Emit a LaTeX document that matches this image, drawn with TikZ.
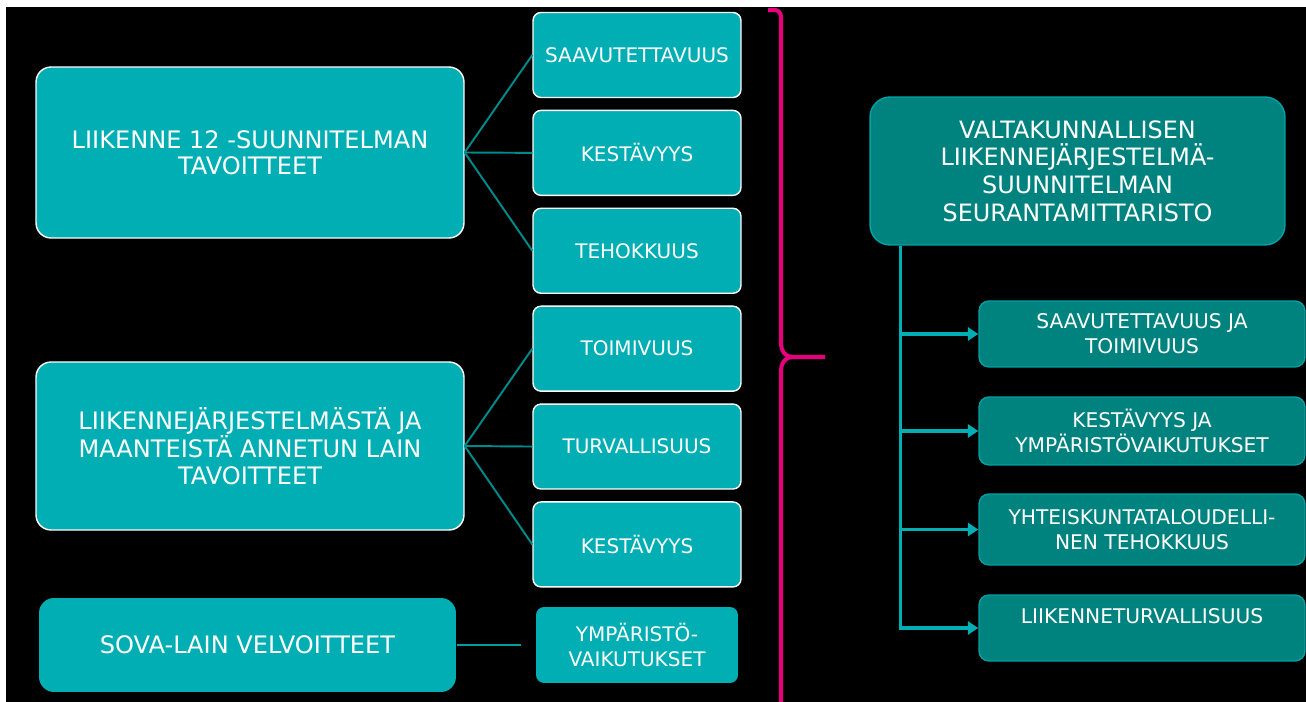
\documentclass[tikz,border=0pt]{standalone}
\usepackage{fontspec}
\setmainfont{DejaVu Sans}
\usepackage{xcolor}
\usepackage{tikz}
\usetikzlibrary{arrows.meta, positioning}

\definecolor{tealA}{HTML}{00AEB3}
\definecolor{tealB}{HTML}{00827F}
\definecolor{tealLine}{HTML}{008A8A}
\definecolor{braceMagenta}{HTML}{E6007E}

\tikzset{
  goalbox/.style={draw=white, line width=0.8pt, fill=tealA, text=white, rounded corners=0.3cm,
    align=center, inner sep=0pt, font=\fontsize{13.7}{15}\selectfont},
  aimbox/.style={draw=white, line width=0.8pt, fill=tealA, text=white, rounded corners=0.16cm,
    align=center, inner sep=0pt, minimum width=4.16cm, minimum height=1.7cm,
    font=\fontsize{11.4}{14.2}\selectfont},
  titlebox/.style={draw=tealA!75!tealB, line width=0.8pt, fill=tealB, text=white, rounded corners=0.4cm,
    align=center, inner sep=0pt, minimum width=8.3cm, minimum height=2.96cm,
    font=\fontsize{13.6}{15.7}\selectfont},
  metricbox/.style={draw=tealA!70!tealB, line width=0.8pt, fill=tealB, text=white, rounded corners=0.2cm,
    align=center, inner sep=0pt, minimum width=6.52cm, font=\fontsize{11.5}{14.2}\selectfont},
  link/.style={draw=tealLine, line width=1.1pt},
  feed/.style={draw=tealA, line width=2pt},
  brace/.style={draw=braceMagenta, line width=2.3pt}
}

\begin{document}
\begin{tikzpicture}[x=0.02cm, y=-0.02cm]

  \fill[white] (0,0) rectangle (1306,702);
  \fill[black] (6,7) rectangle (1306,702);
  \useasboundingbox (0,0) rectangle (1306,702);

  \node[goalbox, minimum width=8.56cm, minimum height=3.42cm] (plan) at (250,152.5)
  {LIIKENNE 12 -SUUNNITELMAN\\TAVOITTEET};

  \node[goalbox, minimum width=8.56cm, minimum height=3.36cm] (law) at (250,446)
  {LIIKENNEJÄRJESTELMÄSTÄ JA\\MAANTEISTÄ ANNETUN LAIN\\TAVOITTEET};

  \node[goalbox, draw=none, minimum width=8.34cm, minimum height=1.88cm] (sova) at (247.5,645)
  {SOVA-LAIN VELVOITTEET};

  \node[aimbox] (access) at (637,55) {SAAVUTETTAVUUS};
  \node[aimbox, below=0.23cm of access] (sustain) {KESTÄVYYS};
  \node[aimbox, below=0.23cm of sustain] (effic) {TEHOKKUUS};
  \node[aimbox, below=0.23cm of effic] (operat) {TOIMIVUUS};
  \node[aimbox, below=0.23cm of operat] (safety) {TURVALLISUUS};
  \node[aimbox, below=0.23cm of safety] (sustainB) {KESTÄVYYS};

  \node[aimbox, draw=none, minimum width=4.04cm, minimum height=1.52cm] (env) at (637,645)
  {YMPÄRISTÖ-\\VAIKUTUKSET};

  \node[titlebox] (monitor) at (1077.5,171)
  {VALTAKUNNALLISEN\\LIIKENNEJÄRJESTELMÄ-\\SUUNNITELMAN\\SEURANTAMITTARISTO};

  \node[metricbox, minimum height=1.32cm] (r1) at (1142,334) {SAAVUTETTAVUUS JA\\TOIMIVUUS};
  \node[metricbox, minimum height=1.36cm] (r2) at (1142,431) {KESTÄVYYS JA\\YMPÄRISTÖVAIKUTUKSET};
  \node[metricbox, minimum height=1.42cm] (r3) at (1142,529.5) {YHTEISKUNTATALOUDELLI-\\NEN TEHOKKUUS};
  \node[metricbox, minimum height=1.32cm] (r4) at (1142,628) {LIIKENNETURVALLISUUS\\\mbox{}};

  \foreach \s in {access,sustain,effic}
    \draw[link] (plan.east) -- (\s.west);
  \foreach \s in {operat,safety,sustainB}
    \draw[link] (law.east) -- (\s.west);
  \draw[link, draw=tealA!90!black, line width=1.5pt, shorten >=0.28cm] (sova.east) -- (env.west);

  \draw[brace] (768,10) -- (775,10) to[out=0,in=90] (781,17) -- (781,344)
    to[out=-90,in=180] (792,357) -- (825,357);
  \draw[brace] (792,357) to[out=180,in=90] (781,370) -- (781,702);

  \coordinate (spine) at ([xshift=0.62cm]monitor.south west);
  \draw[feed, -{Triangle[length=6pt,width=7.5pt]}] (spine) |- (r4.west);
  \foreach \r in {r1,r2,r3}
    \draw[feed, -{Triangle[length=6pt,width=7.5pt]}] (spine |- \r.west) -- (\r.west);

\end{tikzpicture}
\end{document}
